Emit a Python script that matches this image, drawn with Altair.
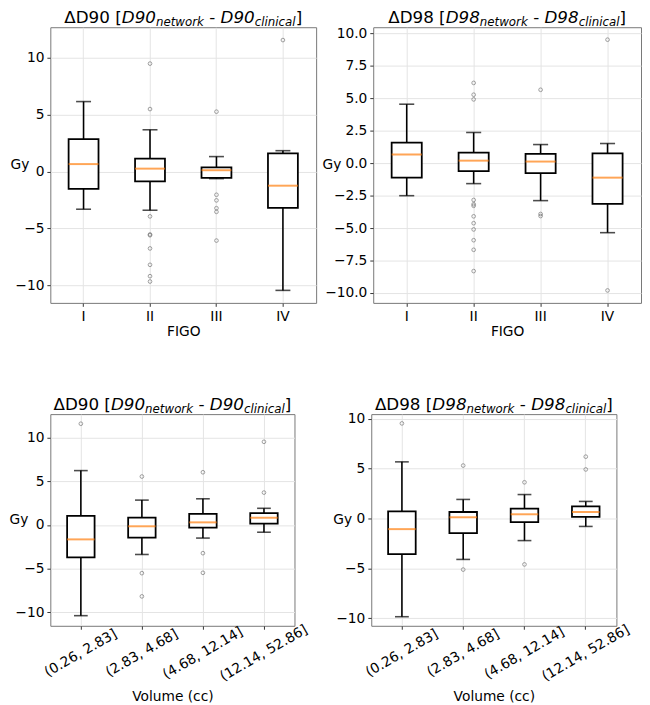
import altair as alt
import pandas as pd

FONT = "DejaVu Sans"

# ---------------- data ----------------
cats_figo = ["I", "II", "III", "IV"]
cats_vol = ["(0.26, 2.83]", "(2.83, 4.68]", "(4.68, 12.14]", "(12.14, 52.86]"]

# Panel 1: dD90 by FIGO
p1_whi = [6.16, 3.68, 1.32, 1.84]
p1_q3 = [2.85, 1.15, 0.37, 1.61]
p1_med = [0.66, 0.26, 0.12, -1.24]
p1_q1 = [-1.53, -0.86, -0.55, -3.19]
p1_wlo = [-3.31, -3.40, -0.62, -10.45]
p1_fliers = {
    "II": [9.5, 5.5, -3.94, -5.53, -5.6, -6.76, -8.2, -9.2, -9.67],
    "III": [5.27, -2.04, -2.53, -3.22, -3.54, -6.07],
    "IV": [11.57],
}

# Panel 2: dD98 by FIGO
p2_whi = [4.55, 2.37, 1.44, 1.52]
p2_q3 = [1.59, 0.81, 0.73, 0.76]
p2_med = [0.68, 0.20, 0.13, -1.11]
p2_q1 = [-1.11, -0.61, -0.76, -3.13]
p2_wlo = [-2.50, -1.57, -2.88, -5.35]
p2_fliers = {
    "II": [6.19, 5.28, 4.92, -2.83, -3.16, -3.28, -4.09, -4.62, -5.1, -5.93, -6.67, -8.31],
    "III": [5.66, -3.91, -4.07],
    "IV": [9.52, -9.8],
}

# Panel 3: dD90 by volume
p3_whi = [6.23, 2.85, 3.00, 1.91]
p3_q3 = [1.05, 0.83, 1.28, 1.35]
p3_med = [-1.65, -0.15, 0.30, 0.83]
p3_q1 = [-3.71, -1.46, -0.30, 0.15]
p3_wlo = [-10.39, -3.38, -1.50, -0.83]
p3_fliers = {
    "(0.26, 2.83]": [11.6],
    "(2.83, 4.68]": [5.55, -5.52, -8.18],
    "(4.68, 12.14]": [6.04, -3.23, -5.48],
    "(12.14, 52.86]": [9.53, 3.71],
}

# Panel 4: dD98 by volume
p4_whi = [5.69, 1.92, 2.41, 1.72]
p4_q3 = [0.73, 0.66, 0.99, 1.22]
p4_med = [-1.06, 0.13, 0.43, 0.66]
p4_q1 = [-3.57, -1.45, -0.36, 0.17]
p4_wlo = [-9.85, -4.10, -2.21, -0.79]
p4_fliers = {
    "(0.26, 2.83]": [9.55],
    "(2.83, 4.68]": [5.32, -5.12],
    "(4.68, 12.14]": [3.64, -4.6],
    "(12.14, 52.86]": [6.21, 4.93],
}

dom_d90 = [-11.55, 12.7]
dom_d98 = [-10.76, 10.48]
ticks_5 = [-10, -5, 0, 5, 10]
ticks_25 = [-10, -7.5, -5, -2.5, 0, 2.5, 5, 7.5, 10]

# approximate DejaVu Sans advance widths (em)
EM = {"Δ": 0.684, "D": 0.770, "0": 0.636, "8": 0.636, "9": 0.636, " ": 0.318,
      "[": 0.390, "]": 0.390, "-": 0.361, "n": 0.634, "e": 0.615, "t": 0.392,
      "w": 0.818, "o": 0.612, "r": 0.411, "k": 0.579, "c": 0.550, "l": 0.278,
      "i": 0.278, "a": 0.613}


def tw(s, size):
    return sum(EM.get(ch, 0.6) for ch in s) * size


def title_layers(dose, width):
    main, sub = 17, 12
    pieces = [
        (f"ΔD{dose} [", "normal", main, 0),
        (f"D{dose}", "italic", main, 0),
        ("network", "italic", sub, 3),
        (" - ", "normal", main, 0),
        (f"D{dose}", "italic", main, 0),
        ("clinical", "italic", sub, 3),
        ("]", "normal", main, 0),
    ]
    total = sum(tw(p[0], p[2]) for p in pieces)
    x = width / 2 - total / 2
    layers = []
    for text, style, size, dy in pieces:
        w = tw(text, size)
        t = "-" if text == " - " else text
        xx = x + (tw(" ", size) if text == " - " else 0)
        layers.append(
            alt.Chart(alt.Data(values=[{"t": t}]))
            .mark_text(align="left", baseline="alphabetic", font=FONT,
                       fontSize=size, fontStyle=style, color="black")
            .encode(text="t:N", x=alt.value(xx), y=alt.value(-4 + dy))
        )
        x += w
    return layers


def panel(cats, whi, q3, med, q1, wlo, fliers, dose, dom, ticks, fmt,
          width, height, xtitle, rotated, gy_x):
    box = pd.DataFrame({"cat": cats, "whi": whi, "q3": q3, "med": med,
                        "q1": q1, "wlo": wlo})
    fl = pd.DataFrame([{"cat": c, "v": v} for c, vs in fliers.items() for v in vs])
    band = width / len(cats)
    bw = 0.45 * band

    if rotated:
        xaxis = alt.Axis(title=xtitle, labelAngle=-30, labelAlign="center",
                         labelBaseline="middle", labelPadding=24, grid=True,
                         titlePadding=6)
    else:
        xaxis = alt.Axis(title=xtitle, labelAngle=0, grid=True, titlePadding=2)
    xenc = alt.X("cat:N", sort=cats, axis=xaxis,
                 scale=alt.Scale(paddingInner=0, paddingOuter=0))

    def yenc(field):
        return alt.Y(f"{field}:Q",
                     scale=alt.Scale(domain=dom, nice=False, zero=False),
                     axis=alt.Axis(values=ticks, format=fmt, title="Gy",
                                   titleAngle=0, titleX=gy_x, titleY=height / 2,
                                   titleAlign="left", titleBaseline="middle",
                                   grid=True))

    base = alt.Chart(box)
    upper = base.mark_rule(color="black", strokeWidth=1.6).encode(
        x=xenc, y=yenc("q3"), y2="whi:Q")
    lower = base.mark_rule(color="black", strokeWidth=1.6).encode(
        x=xenc, y=yenc("wlo"), y2="q1:Q")
    cap_hi = base.mark_tick(color="black", size=bw / 2, thickness=1.6).encode(
        x=xenc, y=yenc("whi"))
    cap_lo = base.mark_tick(color="black", size=bw / 2, thickness=1.6).encode(
        x=xenc, y=yenc("wlo"))
    rect = base.mark_bar(size=bw, fill="white", stroke="black",
                         strokeWidth=1.8).encode(x=xenc, y=yenc("q1"), y2="q3:Q")
    median = base.mark_tick(color="#ff7f0e", size=bw, thickness=2).encode(
        x=xenc, y=yenc("med"))
    pts = alt.Chart(fl).mark_point(shape="circle", filled=False, size=14,
                                   stroke="#666666", strokeWidth=0.9).encode(
        x=xenc, y=yenc("v"))

    return alt.layer(upper, lower, cap_hi, cap_lo, rect, median, pts,
                     *title_layers(dose, width)).properties(width=width,
                                                            height=height)


p1 = panel(cats_figo, p1_whi, p1_q3, p1_med, p1_q1, p1_wlo, p1_fliers, 90,
           dom_d90, ticks_5, "d", 270, 280, "FIGO", False, -41)
p2 = panel(cats_figo, p2_whi, p2_q3, p2_med, p2_q1, p2_wlo, p2_fliers, 98,
           dom_d98, ticks_25, ".1f", 272, 280, "FIGO", False, -52)
p3 = panel(cats_vol, p3_whi, p3_q3, p3_med, p3_q1, p3_wlo, p3_fliers, 90,
           dom_d90, ticks_5, "d", 248, 215, "Volume (cc)", True, -42)
p4 = panel(cats_vol, p4_whi, p4_q3, p4_med, p4_q1, p4_wlo, p4_fliers, 98,
           dom_d98, ticks_5, "d", 249, 215, "Volume (cc)", True, -39)

chart = alt.vconcat(
    alt.hconcat(p1, p2, spacing=4),
    alt.hconcat(p3, p4, spacing=22),
    spacing=57,
).properties(
    padding={"top": -5, "left": 0, "right": 0, "bottom": 0}
).configure_view(
    stroke="#777777", strokeWidth=1
).configure_axis(
    labelFont=FONT, titleFont=FONT, labelFontSize=14, titleFontSize=14,
    titleFontWeight="normal", labelColor="black", titleColor="black",
    gridColor="#e4e4e4", gridWidth=1, domain=False, tickColor="#333333",
    tickSize=3.5, tickWidth=1, labelPadding=3
)

chart.save("out.html", embed_options={"renderer": "svg", "actions": False})
